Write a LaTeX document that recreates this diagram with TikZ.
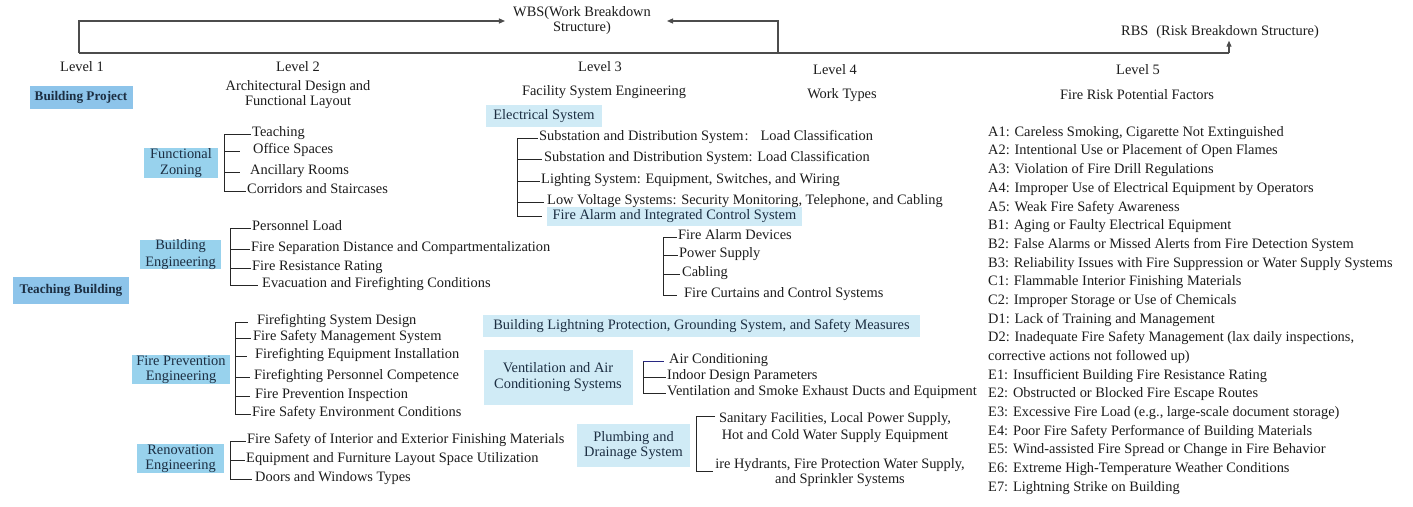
\documentclass[tikz,border=0pt]{standalone}
\usepackage{fontspec}
\setmainfont{Liberation Serif}
\usetikzlibrary{arrows.meta}
\definecolor{boxdark}{RGB}{141,196,234}
\definecolor{boxmid}{RGB}{152,210,237}
\definecolor{boxlight}{RGB}{208,235,246}
\definecolor{boxtext}{RGB}{28,46,66}
\definecolor{ink}{RGB}{28,28,28}
\definecolor{tickblue}{RGB}{40,40,130}
\begin{document}
\begin{tikzpicture}[x=1pt,y=-1pt,
  every node/.style={font=\fontsize{14.4}{16.5}\selectfont, text=ink},
  item/.style={inner sep=0pt, anchor=mid west, yshift=-2pt},
  hdr/.style={inner sep=0pt, align=center},
  bigbox/.style={fill=boxdark, text=boxtext, font=\fontsize{13.2}{16}\selectfont\bfseries, inner sep=0pt},
  midbox/.style={fill=boxmid, text=boxtext, inner sep=0pt, align=center},
  litebox/.style={fill=boxlight, text=boxtext, inner sep=0pt, align=center},
  br/.style={draw=black!85, line width=0.9pt},
  conn/.style={draw=black!70, line width=1.1pt},
  arr/.style={conn, -{Triangle[length=6pt,width=5pt]}}
]
\fill[white] (0,0) rectangle (1413,506);
\useasboundingbox (0,0) rectangle (1413,506);

% ---------- top structure ----------
\node[hdr, font=\fontsize{14.4}{15}\selectfont] (wbs) at (582,21) {WBS(Work Breakdown\\Structure)};
\node[hdr] (rbs) at (1222,32) {RBS\hspace{8pt}(Risk Breakdown Structure)\hspace{4pt}};
\coordinate (tl) at (79,53);
\coordinate (tm) at (778,53);
\coordinate (tr) at (1229,53);
\draw[conn] (tl) -- (tr);
\draw[arr, shorten >=8pt] (tl) |- (wbs.west);
\draw[arr, shorten >=16pt] (tm) |- (wbs.east);
\draw[arr, shorten >=2pt] (tr) -- (tr |- rbs.south);

% ---------- headers ----------
\node[hdr] (l1) at (82,67) {Level 1};
\node[hdr] (l2) at (298,67) {Level 2};
\node[hdr] (l3) at (600,67) {Level 3};
\node[hdr] (l4) at (835,70) {Level 4};
\node[hdr] (l5) at (1138,70) {Level 5};
\node[hdr, font=\fontsize{14.4}{15.5}\selectfont] (h2) at (298,94.5) {Architectural Design and\\Functional Layout};
\node[hdr] (h3) at (604,92) {Facility System Engineering};
\node[hdr] (h4) at (842,95) {Work Types};
\node[hdr] (h5) at (1137,95) {Fire Risk Potential Factors};

% ---------- level 1 boxes ----------
\node[bigbox, minimum width=103pt, minimum height=23pt] (bp) at (81,97) {Building Project};
\node[bigbox, minimum width=116pt, minimum height=27pt] (tb) at (71,290) {Teaching Building};

% ---------- level 2 boxes ----------
\node[midbox, minimum width=74pt, minimum height=30pt] (fz) at (181,163) {Functional\\Zoning};
\node[midbox, minimum width=81pt, minimum height=29pt] (be) at (180.5,254.5) {Building\\Engineering};
\node[midbox, minimum width=98pt, minimum height=29pt, font=\fontsize{14.4}{15}\selectfont] (fp) at (181,369.5) {Fire Prevention\\Engineering};
\node[midbox, minimum width=87pt, minimum height=29pt, font=\fontsize{14.4}{15}\selectfont] (re) at (180.5,458.5) {Renovation\\Engineering};

% ---------- level 3 boxes ----------
\node[litebox, minimum width=116pt, minimum height=22pt] (es) at (544,116) {Electrical System};
\node[litebox, minimum width=255pt, minimum height=19pt] (fa) at (674.5,216.5) {Fire Alarm and Integrated Control System};
\node[litebox, minimum width=437pt, minimum height=22pt] (bl) at (701.5,326) {Building Lightning Protection, Grounding System, and Safety Measures};
\node[litebox, minimum width=149pt, minimum height=55pt, font=\fontsize{14.4}{16}\selectfont] (va) at (558,377.5) {Ventilation and Air\\Conditioning Systems};
\node[litebox, minimum width=113pt, minimum height=43pt, font=\fontsize{14.4}{15.5}\selectfont] (pd) at (633.5,445.5) {Plumbing and\\Drainage System};

% ---------- functional zoning ----------
\node[item] (fz1) at (252,132) {Teaching};
\node[item] (fz2) at (253,149) {Office Spaces};
\node[item] (fz3) at (250,170) {Ancillary Rooms};
\node[item] (fz4) at (247,189) {Corridors and Staircases};
\coordinate (fzs) at (224,0);
\draw[br] (fz1.mid west -| fzs) -- (fz4.mid west -| fzs);
\foreach \n/\s in {fz1/1, fz2/13, fz3/10, fz4/1}
  \draw[br, shorten >=\s pt] (\n.mid west -| fzs) -- (\n.mid west);

% ---------- building engineering ----------
\node[item] (be1) at (252,226) {Personnel Load};
\node[item] (be2) at (251,247) {Fire Separation Distance and Compartmentalization};
\node[item] (be3) at (252,266) {Fire Resistance Rating};
\node[item] (be4) at (262,283) {Evacuation and Firefighting Conditions};
\coordinate (bes) at (230,0);
\draw[br] (be1.mid west -| bes) -- (be4.mid west -| bes);
\foreach \n/\s in {be1/1, be2/1, be3/1, be4/4}
  \draw[br, shorten >=\s pt] (\n.mid west -| bes) -- (\n.mid west);

% ---------- fire prevention engineering ----------
\node[item] (fp1) at (257,320) {Firefighting System Design};
\node[item] (fp2) at (253,336) {Fire Safety Management System};
\node[item] (fp3) at (255,354) {Firefighting Equipment Installation};
\node[item] (fp4) at (254,375) {Firefighting Personnel Competence};
\node[item] (fp5) at (255,394) {Fire Prevention Inspection};
\node[item] (fp6) at (252,412) {Fire Safety Environment Conditions};
\coordinate (fps) at (235,0);
\draw[br] (fp1.mid west -| fps) -- (fp6.mid west -| fps);
\foreach \n/\s in {fp1/9, fp2/2, fp3/8, fp4/4, fp5/5, fp6/1}
  \draw[br, shorten >=\s pt] (\n.mid west -| fps) -- (\n.mid west);

% ---------- renovation engineering ----------
\node[item] (re1) at (247,439) {Fire Safety of Interior and Exterior Finishing Materials};
\node[item] (re2) at (246,458) {Equipment and Furniture Layout Space Utilization};
\node[item] (re3) at (255,477) {Doors and Windows Types};
\coordinate (res) at (230,0);
\draw[br] (re1.mid west -| res) -- (re3.mid west -| res);
\foreach \n/\s in {re1/1, re2/1, re3/3}
  \draw[br, shorten >=\s pt] (\n.mid west -| res) -- (\n.mid west);

% ---------- electrical system ----------
\node[item] (es1) at (539,136) {Substation and Distribution System\hspace{1pt}:\hspace{12pt}Load Classification};
\node[item] (es2) at (544,157) {Substation and Distribution System: Load Classification};
\node[item] (es3) at (541,179) {Lighting System: Equipment, Switches, and Wiring};
\node[item] (es4) at (547,200) {Low Voltage Systems: Security Monitoring, Telephone, and Cabling};
\coordinate (ess) at (517,0);
\draw[br] (es1.mid west -| ess) -- (fa.west -| ess);
\foreach \n/\s in {es1/1, es2/2, es3/1, es4/3}
  \draw[br, shorten >=\s pt] (\n.mid west -| ess) -- (\n.mid west);
\draw[br, shorten >=5pt] (fa.west -| ess) -- (fa.west);

% ---------- fire alarm system ----------
\node[item] (fa1) at (678,235) {Fire Alarm Devices};
\node[item] (fa2) at (679,253) {Power Supply};
\node[item] (fa3) at (682,272) {Cabling};
\node[item] (fa4) at (684,293) {Fire Curtains and Control Systems};
\coordinate (fas) at (663,0);
\draw[br] (fa1.mid west -| fas) -- (fa4.mid west -| fas);
\foreach \n/\s in {fa1/1, fa2/1, fa3/2, fa4/7}
  \draw[br, shorten >=\s pt] (\n.mid west -| fas) -- (\n.mid west);

% ---------- ventilation ----------
\node[item] (va1) at (669,359) {Air Conditioning};
\node[item] (va2) at (667,375) {Indoor Design Parameters};
\node[item] (va3) at (667,391) {Ventilation and Smoke Exhaust Ducts and Equipment};
\coordinate (vas) at (643,0);
\draw[br] (va1.mid west -| vas) -- (va3.mid west -| vas);
\draw[br, draw=tickblue, shorten >=5pt] (va1.mid west -| vas) -- (va1.mid west);
\foreach \n/\s in {va2/1, va3/1}
  \draw[br, shorten >=\s pt] (\n.mid west -| vas) -- (\n.mid west);

% ---------- plumbing ----------
\node[hdr, font=\fontsize{14.4}{17}\selectfont] (pd1) at (835,427.5) {Sanitary Facilities, Local Power Supply,\\Hot and Cold Water Supply Equipment};
\node[hdr, font=\fontsize{14.4}{15}\selectfont] (pd2) at (840,472.5) {ire Hydrants, Fire Protection Water Supply,\\and Sprinkler Systems};
\coordinate (pdt) at (696,416);
\coordinate (pdb) at (696,471);
\coordinate (pdt2) at (715,416);
\coordinate (pdb2) at (713,471);
\draw[br] (pdt2) -- (pdt) -- (pdb) -- (pdb2);

% ---------- risk factors ----------
\foreach \t [count=\i from 0] in {%
  {A1: Careless Smoking, Cigarette Not Extinguished},
  {A2: Intentional Use or Placement of Open Flames},
  {A3: Violation of Fire Drill Regulations},
  {A4: Improper Use of Electrical Equipment by Operators},
  {A5: Weak Fire Safety Awareness},
  {B1: Aging or Faulty Electrical Equipment},
  {B2: False Alarms or Missed Alerts from Fire Detection System},
  {B3: Reliability Issues with Fire Suppression or Water Supply Systems},
  {C1: Flammable Interior Finishing Materials},
  {C2: Improper Storage or Use of Chemicals},
  {D1: Lack of Training and Management},
  {D2: Inadequate Fire Safety Management (lax daily inspections,},
  {corrective actions not followed up)},
  {E1: Insufficient Building Fire Resistance Rating},
  {E2: Obstructed or Blocked Fire Escape Routes},
  {E3: Excessive Fire Load (e.g., large-scale document storage)},
  {E4: Poor Fire Safety Performance of Building Materials},
  {E5: Wind-assisted Fire Spread or Change in Fire Behavior},
  {E6: Extreme High-Temperature Weather Conditions},
  {E7: Lightning Strike on Building}}
  \node[item] (r\i) at (988,{132+18.68*\i}) {\t};
\end{tikzpicture}
\end{document}
